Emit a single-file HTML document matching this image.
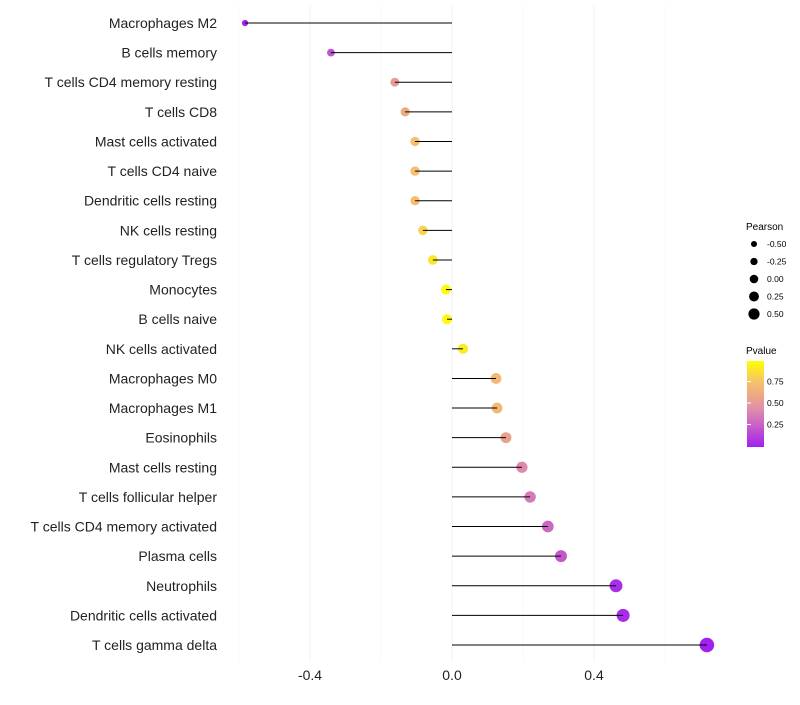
<!DOCTYPE html>
<html><head><meta charset="utf-8"><style>
body{margin:0;background:#fff;font-family:"Liberation Sans",sans-serif}
</style></head><body>
<svg id="chart" width="800" height="700" xmlns="http://www.w3.org/2000/svg">
<defs><linearGradient id="pg" x1="0" y1="1" x2="0" y2="0">
<stop offset="0" stop-color="#a020f0"/><stop offset="0.25" stop-color="#c860c8"/><stop offset="0.45" stop-color="#e090a8"/><stop offset="0.6" stop-color="#eea882"/><stop offset="0.75" stop-color="#f5c070"/><stop offset="1" stop-color="#ffff00"/></linearGradient></defs>
<g id="grid"></g><g id="dots"></g><g id="marks"></g><g id="labels"></g>
<g font-size="10">
<text x="746" y="230" font-size="10">Pearson</text>
<g id="sizeleg"></g>
<text x="746" y="354" font-size="10">Pvalue</text>
<rect x="747" y="361" width="17" height="86" fill="url(#pg)"/>
<g id="colleg" font-size="8.5"></g>
</g>
</svg>
<script>
const cells=["Macrophages M2","B cells memory","T cells CD4 memory resting","T cells CD8","Mast cells activated","T cells CD4 naive","Dendritic cells resting","NK cells resting","T cells regulatory  Tregs ","Monocytes","B cells naive","NK cells activated","Macrophages M0","Macrophages M1","Eosinophils","Mast cells resting","T cells follicular helper","T cells CD4 memory activated","Plasma cells","Neutrophils","Dendritic cells activated","T cells gamma delta"];
const pearson=[-0.583,-0.341,-0.161,-0.132,-0.104,-0.104,-0.104,-0.082,-0.054,-0.017,-0.014,0.031,0.124,0.127,0.152,0.197,0.220,0.270,0.307,0.462,0.482,0.718];
const pvalue=[0.01,0.2,0.52,0.62,0.74,0.74,0.74,0.82,0.9,0.98,0.98,0.92,0.7,0.7,0.55,0.42,0.36,0.28,0.22,0.05,0.05,0.002];
const xTicks=[-0.4,0.0,0.4];
const xTickLabels=["-0.4","0.0","0.4"];
const minorTicks=[-0.6,-0.2,0.2,0.6];
const sizeLegVals=[-0.5,-0.25,0,0.25,0.5];
const colLegVals=[0.75,0.5,0.25];
const NS="http://www.w3.org/2000/svg";
const X=v=>452+v*355;
const Y=i=>23+i*29.62;
const R=v=>Math.max(2,5+3.2*v);
const stops=[[0,[160,32,240]],[0.25,[200,96,200]],[0.45,[224,144,168]],[0.6,[238,168,130]],[0.75,[245,192,112]],[1,[255,255,0]]];
function col(p){for(let k=1;k<stops.length;k++){if(p<=stops[k][0]){const [p0,a]=stops[k-1],[p1,b]=stops[k];const t=(p-p0)/(p1-p0);return `rgb(${a.map((c,i)=>Math.round(c+(b[i]-c)*t))})`;}}return 'rgb(255,255,0)';}
function mk(tag,at,parent){const e=document.createElementNS(NS,tag);for(const k in at)e.setAttribute(k,at[k]);parent.appendChild(e);return e;}
const grid=document.getElementById('grid'),marks=document.getElementById('marks'),dots=document.getElementById('dots'),labels=document.getElementById('labels');
minorTicks.forEach(v=>{const l=mk('line',{x1:X(v),x2:X(v),y1:5,y2:662,stroke:'#f8f8f8','stroke-width':1},grid);

});
xTicks.forEach((v,i)=>{const l=mk('line',{x1:X(v),x2:X(v),y1:5,y2:662,stroke:'#f0f0f0','stroke-width':1},grid);


const t=mk('text',{x:X(v),y:680,'text-anchor':'middle','font-size':14,fill:'#222'},labels);t.textContent=xTickLabels[i];

});
cells.forEach((c,i)=>{const y=Y(i);
const d=mk('circle',{cx:X(pearson[i]),cy:y,r:R(pearson[i]),fill:col(pvalue[i])},dots);


const l=mk('line',{x1:X(0),x2:X(pearson[i]),y1:y,y2:y,stroke:'#000','stroke-width':1},marks);


const t=mk('text',{x:217,y:y+5,'text-anchor':'end','font-size':14,fill:'#222','xml:space':'preserve'},labels);t.textContent=c;

});
const sl=document.getElementById('sizeleg');
sizeLegVals.forEach((v,i)=>{const y=244+i*17.5;
const d=mk('circle',{cx:754,cy:y,r:R(v)*0.8+0.3,fill:'#000'},sl);


const t=mk('text',{x:767,y:y+3,'font-size':8.5},sl);t.textContent=v.toFixed(2);

});
const cl=document.getElementById('colleg');
colLegVals.forEach(v=>{const y=446-v*86;
const t=mk('text',{x:767,y:y+3},cl);t.textContent=v.toFixed(2);


const a=mk('line',{x1:747,x2:751,y1:y,y2:y,stroke:'#fff'},cl);

});
</script>
</body></html>
